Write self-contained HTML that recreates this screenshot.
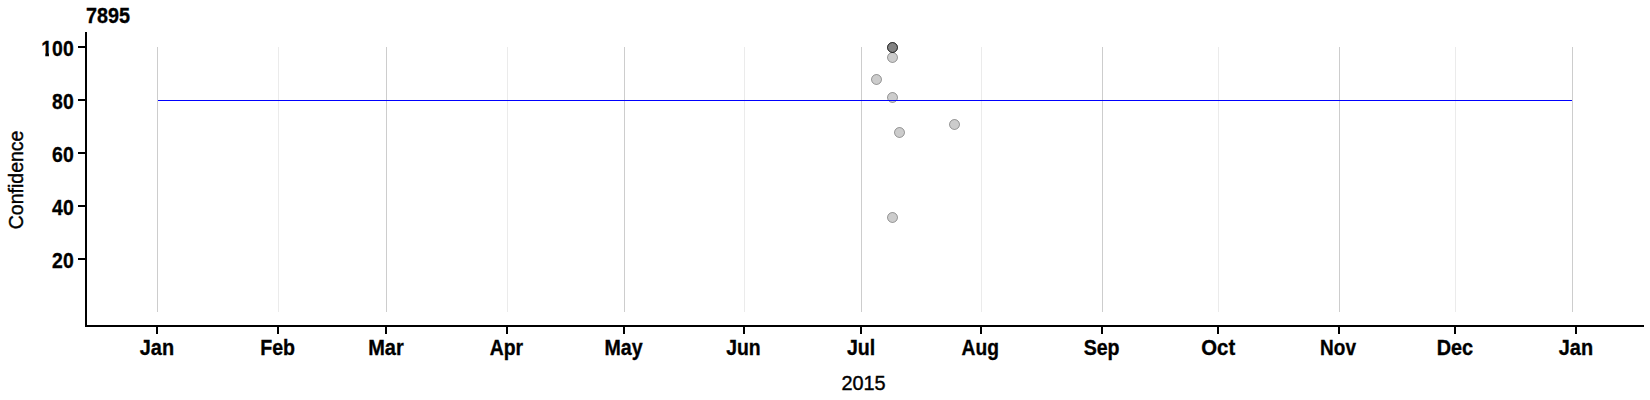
<!DOCTYPE html>
<html><head><meta charset="utf-8"><title>7895</title>
<style>
html,body{margin:0;padding:0;background:#fff;}
body{width:1650px;height:400px;overflow:hidden;}
svg{display:block;}
text{font-family:"Liberation Sans",Arial,sans-serif;fill:#000;}
.b{font-weight:bold;font-size:20px;stroke:#000;stroke-width:0.3px;}
.r{font-size:20px;stroke:#000;stroke-width:0.4px;}
</style></head><body>
<svg width="1650" height="400" viewBox="0 0 1650 400">
<rect width="1650" height="400" fill="#fff"/>

<g shape-rendering="crispEdges">
<rect x="157" y="47" width="1" height="265" fill="#cdcdcd"/>
<rect x="278" y="47" width="1" height="265" fill="#ebebeb"/>
<rect x="386" y="47" width="1" height="265" fill="#cdcdcd"/>
<rect x="507" y="47" width="1" height="265" fill="#ebebeb"/>
<rect x="624" y="47" width="1" height="265" fill="#cdcdcd"/>
<rect x="744" y="47" width="1" height="265" fill="#ebebeb"/>
<rect x="861" y="47" width="1" height="265" fill="#cdcdcd"/>
<rect x="981" y="47" width="1" height="265" fill="#ebebeb"/>
<rect x="1102" y="47" width="1" height="265" fill="#cdcdcd"/>
<rect x="1218" y="47" width="1" height="265" fill="#ebebeb"/>
<rect x="1339" y="47" width="1" height="265" fill="#cdcdcd"/>
<rect x="1455" y="47" width="1" height="265" fill="#ebebeb"/>
<rect x="1572" y="47" width="1" height="265" fill="#cdcdcd"/>
</g>
<g fill="#000" fill-opacity="0.2" stroke="#000" stroke-opacity="0.35" stroke-width="1">
<circle cx="892.5" cy="47.5" r="5"/>
<circle cx="892.5" cy="47.5" r="5"/>
<circle cx="892.5" cy="47.5" r="5"/>
<circle cx="892.5" cy="57.5" r="5"/>
<circle cx="876.5" cy="79.5" r="5"/>
<circle cx="892.5" cy="97.5" r="5"/>
<circle cx="899.5" cy="132.5" r="5"/>
<circle cx="954.5" cy="124.5" r="5"/>
<circle cx="892.5" cy="217.5" r="5"/>
</g>
<rect x="158" y="100" width="1414" height="1" fill="#0000ff" shape-rendering="crispEdges"/>
<g shape-rendering="crispEdges" fill="#000">
<rect x="85" y="32" width="2" height="295"/>
<rect x="85" y="325" width="1559" height="2"/>
<rect x="78" y="46" width="7" height="2"/>
<rect x="78" y="99" width="7" height="2"/>
<rect x="78" y="152" width="7" height="2"/>
<rect x="78" y="205" width="7" height="2"/>
<rect x="78" y="258" width="7" height="2"/>
<rect x="156" y="327" width="2" height="7"/>
<rect x="277" y="327" width="2" height="7"/>
<rect x="385" y="327" width="2" height="7"/>
<rect x="506" y="327" width="2" height="7"/>
<rect x="623" y="327" width="2" height="7"/>
<rect x="743" y="327" width="2" height="7"/>
<rect x="860" y="327" width="2" height="7"/>
<rect x="980" y="327" width="2" height="7"/>
<rect x="1101" y="327" width="2" height="7"/>
<rect x="1217" y="327" width="2" height="7"/>
<rect x="1338" y="327" width="2" height="7"/>
<rect x="1454" y="327" width="2" height="7"/>
<rect x="1575" y="327" width="2" height="7"/>
</g>
<text class="b" transform="translate(86.1,23) scale(0.99,1.065)">7895</text>
<text class="b" transform="translate(73.7,56) scale(0.97,1.065)" text-anchor="end">100</text>
<text class="b" transform="translate(73.7,109) scale(0.97,1.065)" text-anchor="end">80</text>
<text class="b" transform="translate(73.7,162) scale(0.97,1.065)" text-anchor="end">60</text>
<text class="b" transform="translate(73.7,215) scale(0.97,1.065)" text-anchor="end">40</text>
<text class="b" transform="translate(73.7,268) scale(0.97,1.065)" text-anchor="end">20</text>
<text class="b" transform="translate(139.77,355) scale(0.995,1.065)">Jan</text>
<text class="b" transform="translate(260.22,355) scale(0.98,1.065)">Feb</text>
<text class="b" transform="translate(368.21,355) scale(1.0,1.065)">Mar</text>
<text class="b" transform="translate(489.78,355) scale(0.97,1.065)">Apr</text>
<text class="b" transform="translate(604.54,355) scale(0.98,1.065)">May</text>
<text class="b" transform="translate(726.22,355) scale(0.97,1.065)">Jun</text>
<text class="b" transform="translate(846.95,355) scale(0.98,1.065)">Jul</text>
<text class="b" transform="translate(961.56,355) scale(0.96,1.065)">Aug</text>
<text class="b" transform="translate(1083.66,355) scale(0.98,1.065)">Sep</text>
<text class="b" transform="translate(1201.33,355) scale(1.015,1.065)">Oct</text>
<text class="b" transform="translate(1320.11,355) scale(0.95,1.065)">Nov</text>
<text class="b" transform="translate(1436.65,355) scale(0.995,1.065)">Dec</text>
<text class="b" transform="translate(1558.77,355) scale(0.995,1.065)">Jan</text>
<text class="r" transform="translate(863.5,389.9) scale(0.995,1.045)" text-anchor="middle">2015</text>
<text class="r" transform="translate(22.6,179.9) rotate(-90) scale(0.975,1.04)" text-anchor="middle">Confidence</text>
<rect x="41" y="52.7" width="4.3" height="5.3" fill="#fff"/>
<rect x="48.95" y="52.7" width="3.4" height="5.3" fill="#fff"/>
</svg></body></html>
